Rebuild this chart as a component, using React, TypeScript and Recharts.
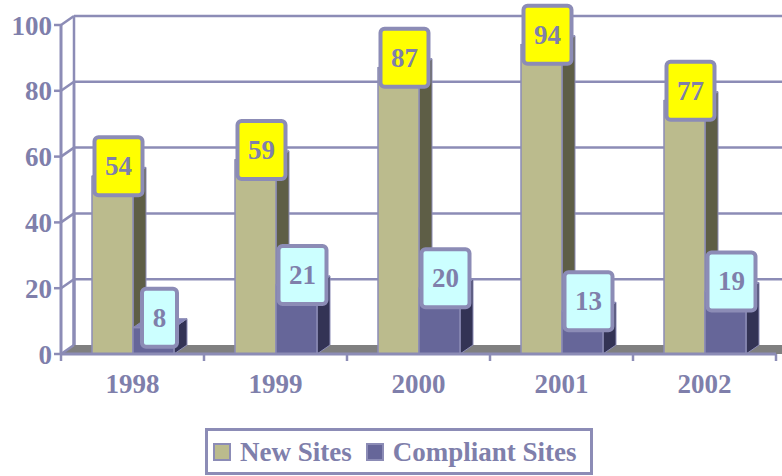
import React from 'react'
import { BarChart, Bar, XAxis, YAxis, CartesianGrid, Legend, LabelList } from 'recharts'

const years = ['1998', '1999', '2000', '2001', '2002']
const newSites = [54, 59, 87, 94, 77]
const compliantSites = [8, 21, 20, 13, 19]
const yTicks = [0, 20, 40, 60, 80, 100]

const data = years.map((year, i) => ({
  year,
  newSites: newSites[i],
  compliant: compliantSites[i]
}))

const DX = 13
const DY = 9
const AXIS = '#8c8cb6'
const TEXT = '#7f7fab'
const FONT = '"Liberation Serif", "Times New Roman", serif'

// 3d box: front face, right side, top
function Bar3D(props: any) {
  const { x, y, width, height, fill, side, top } = props
  if (height == null || height <= 0) return null
  const r = x + width
  const b = y + height
  return (
    <g>
      <polygon points={`${r},${y} ${r + DX},${y - DY} ${r + DX},${b - DY} ${r},${b}`} fill={side} stroke={AXIS} strokeWidth={1} />
      <polygon points={`${x},${y} ${x + DX},${y - DY} ${r + DX},${y - DY} ${r},${y}`} fill={top} stroke={AXIS} strokeWidth={1} />
      <rect x={x} y={y} width={width} height={height} fill={fill} stroke={AXIS} strokeWidth={1.5} />
    </g>
  )
}

function ValueBox(props: any) {
  const { x, y, width, value, bg } = props
  const w = String(value).length > 1 ? 48 : 35
  const h = 58
  const cx = x + width / 2 + 6
  const cy = y - 10
  return (
    <g>
      <rect x={cx - w / 2} y={cy - h / 2} width={w} height={h} rx={4} fill={bg} stroke={AXIS} strokeWidth={4} />
      <text x={cx} y={cy + 9} textAnchor="middle" fill={TEXT} fontFamily={FONT} fontWeight="bold" fontSize={27}>{value}</text>
    </g>
  )
}

function GridLine(props: any) {
  const { x1, y1, x2, y, height } = props
  const bottom = y + height
  const isFloor = Math.abs(y1 - bottom) < 1
  return (
    <g>
      {isFloor && (
        <polygon points={`${x1},${y1} ${x1 + DX},${y1 - DY} ${x2 + DX},${y1 - DY} ${x2 + DX},${y1} `} fill="#808080" />
      )}
      {!isFloor && <line x1={x1 + DX} y1={y1 - DY} x2={x2 + DX} y2={y1 - DY} stroke={AXIS} strokeWidth={2.5} />}
      <line x1={x1} y1={y1} x2={x1 + DX} y2={y1 - DY} stroke={AXIS} strokeWidth={2.5} />
      <line x1={x1 + DX} y1={y1 - DY} x2={x1 + DX} y2={bottom - DY} stroke={AXIS} strokeWidth={2.5} />
    </g>
  )
}

function YearTick(props: any) {
  const { x, y, payload, index, visibleTicksCount } = props
  const half = payload.offset || 71.5
  return (
    <g>
      <line x1={x - half} y1={y} x2={x - half} y2={y + 7} stroke={AXIS} strokeWidth={2.5} />
      {index === visibleTicksCount - 1 && (
        <line x1={x + half} y1={y} x2={x + half} y2={y + 7} stroke={AXIS} strokeWidth={2.5} />
      )}
      <text x={x} y={y + 39} textAnchor="middle" fill={TEXT} fontFamily={FONT} fontWeight="bold" fontSize={27}>{payload.value}</text>
    </g>
  )
}

function LegendBox() {
  const items = [
    { label: 'New Sites', color: '#bbbb8d' },
    { label: 'Compliant Sites', color: '#666699' }
  ]
  return (
    <div style={{ boxSizing: 'border-box', display: 'flex', alignItems: 'center', border: `3px solid ${AXIS}`, paddingLeft: 5, width: 388, height: 47, fontFamily: FONT, fontWeight: 'bold', fontSize: 27, color: TEXT, lineHeight: '30px' }}>
      {items.map((it) => (
        <span key={it.label} style={{ display: 'flex', alignItems: 'center', marginRight: 14, whiteSpace: 'nowrap' }}>
          <span style={{ boxSizing: 'border-box', display: 'inline-block', width: 18, height: 18, background: it.color, border: `2px solid ${AXIS}`, marginRight: 9 }} />
          {it.label}
        </span>
      ))}
    </div>
  )
}

export default function App() {
  return (
    <div style={{ width: 782, height: 476, position: 'relative', background: '#fff' }}>
      <style>{'body{margin:0}'}</style>
      <BarChart width={782} height={476} data={data} margin={{ top: 25, right: 6, left: 0, bottom: 35 }} barSize={41} barGap={0}>
        <CartesianGrid vertical={false} horizontal={(p: any) => <GridLine {...p} />} />
        <XAxis dataKey="year" tickLine={false} tickSize={0} tickMargin={0} height={40} axisLine={{ stroke: AXIS, strokeWidth: 3 }} tick={<YearTick />} interval={0} />
        <YAxis domain={[0, 100]} ticks={yTicks} width={61} tickSize={7} tickMargin={2} interval={0}
          axisLine={{ stroke: AXIS, strokeWidth: 3 }} tickLine={{ stroke: AXIS, strokeWidth: 2.5 }}
          tick={{ fill: TEXT, fontFamily: FONT, fontWeight: 'bold', fontSize: 27 }} />
        <Legend content={() => <LegendBox />} wrapperStyle={{ position: 'absolute', left: 205, top: 428, width: 388, height: 47 }} />
        <Bar dataKey="newSites" name="New Sites" fill="#bbbb8d" isAnimationActive={false}
          shape={(p: any) => <Bar3D {...p} fill="#bbbb8d" side="#5e5e46" top="#d6d6a8" />}>
          <LabelList dataKey="newSites" content={(p: any) => <ValueBox {...p} bg="#ffff00" />} />
        </Bar>
        <Bar dataKey="compliant" name="Compliant Sites" fill="#666699" isAnimationActive={false}
          shape={(p: any) => <Bar3D {...p} fill="#666699" side="#333355" top="#8585b8" />}>
          <LabelList dataKey="compliant" content={(p: any) => <ValueBox {...p} bg="#ccffff" />} />
        </Bar>
      </BarChart>
    </div>
  )
}
